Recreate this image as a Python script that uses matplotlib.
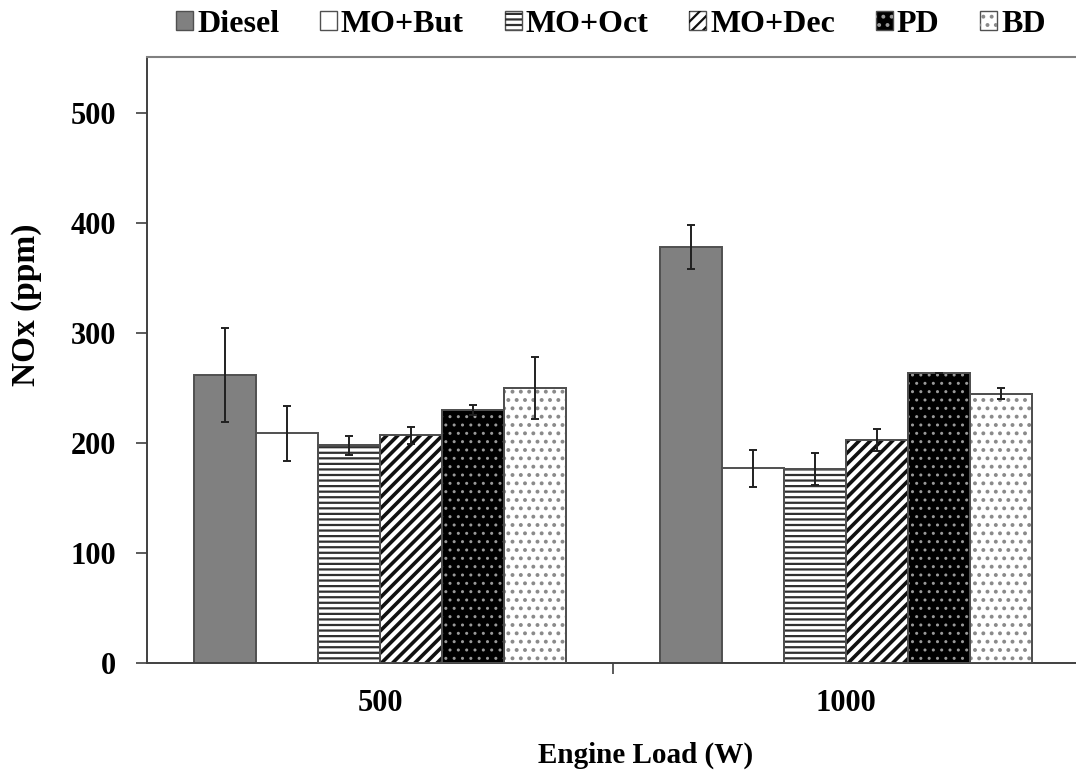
import numpy as np
import matplotlib
matplotlib.use("Agg")
import matplotlib.pyplot as plt
from matplotlib.patches import Patch

# Data
loads = ["500", "1000"]
fuels = ["Diesel", "MO+But", "MO+Oct", "MO+Dec", "PD", "BD"]
diesel = [262, 378]
mo_but = [209, 177]
mo_oct = [198, 176]
mo_dec = [207, 203]
pd_fuel = [230, 264]
bd = [250, 245]
diesel_err = [43, 20]
mo_but_err = [25, 17]
mo_oct_err = [8.5, 14.5]
mo_dec_err = [8, 10]
pd_err = [4.5, 0]
bd_err = [28, 5]

values = [diesel, mo_but, mo_oct, mo_dec, pd_fuel, bd]
errors = [diesel_err, mo_but_err, mo_oct_err, mo_dec_err, pd_err, bd_err]

# Fill / hatch styles for each fuel
styles = [
    dict(face="#808080", hatch=None, hcolor=None, hlw=1.0),
    dict(face="white", hatch=None, hcolor=None, hlw=1.0),
    dict(face="white", hatch="---", hcolor="#303030", hlw=1.6),
    dict(face="white", hatch="///", hcolor="#101010", hlw=2.6),
    dict(face="black", hatch="..", hcolor="#9a9a9a", hlw=1.0),
    dict(face="white", hatch="..", hcolor="#8a8a8a", hlw=1.6),
]
edge = "#505050"

plt.rcParams["font.family"] = ["Liberation Serif", "DejaVu Serif"]
plt.rcParams["font.weight"] = "bold"

fig = plt.figure(figsize=(10.76, 7.71), dpi=100)
ax = fig.add_axes([147 / 1076, 1 - 663 / 771, (1079 - 147) / 1076, (663 - 57) / 771])

x = np.arange(len(loads))
n = len(fuels)
group_w = 0.8
w = group_w / n

handles = []
for i, (vals, errs, st) in enumerate(zip(values, errors, styles)):
    pos = x - group_w / 2 + w * (i + 0.5)
    plt.rcParams["hatch.linewidth"] = st["hlw"]
    ax.bar(pos, vals, width=w, color=st["face"], edgecolor=edge, linewidth=1.4, zorder=2)
    if st["hatch"]:
        ax.bar(pos, vals, width=w, color="none", edgecolor=st["hcolor"],
               hatch=st["hatch"], linewidth=0, zorder=3)
        ax.bar(pos, vals, width=w, color="none", edgecolor=edge, linewidth=1.4, zorder=4)
    ax.errorbar(pos, vals, yerr=errs, fmt="none", ecolor="#202020",
                elinewidth=1.4, capsize=3, capthick=1.4, zorder=5)
    base = Patch(facecolor=st["face"], edgecolor=edge, linewidth=1.0)
    if st["hatch"]:
        over = Patch(facecolor="none", edgecolor=st["hcolor"], hatch=st["hatch"], linewidth=0)
        handles.append((base, over))
    else:
        handles.append(base)

ax.set_xlim(-0.5, 1.5)
ax.set_ylim(0, 551)
ax.set_yticks([0, 100, 200, 300, 400, 500])
ax.set_xticks(x)
ax.set_xticklabels(loads)
ax.set_xticks([0.5], minor=True)
ax.tick_params(axis="x", which="major", length=0, pad=19, labelsize=22)
ax.tick_params(axis="x", which="minor", length=8, width=1.2, color="#404040", direction="out")
ax.tick_params(axis="y", length=8, width=1.2, color="#404040", direction="out", pad=14, labelsize=22)

for lab in ax.get_xticklabels() + ax.get_yticklabels():
    lab.set_fontweight("bold")

ax.spines["right"].set_visible(False)
ax.spines["top"].set_color("#808080")
ax.spines["top"].set_linewidth(1.5)
ax.spines["left"].set_color("#404040")
ax.spines["left"].set_linewidth(1.4)
ax.spines["bottom"].set_color("#404040")
ax.spines["bottom"].set_linewidth(1.4)

ax.set_ylabel("NOx (ppm)", fontsize=24, fontweight="bold", va="center")
ax.yaxis.set_label_coords(-0.1288, 0.591)
ax.set_xlabel("Engine Load (W)", fontsize=21, fontweight="bold", va="center")
ax.xaxis.set_label_coords(0.535, -0.152)

fig.legend(handles, fuels, loc="center", bbox_to_anchor=(611 / 1076, 1 - 24 / 771),
           ncol=6, frameon=False, handlelength=0.53, handleheight=0.55,
           handletextpad=0.12, columnspacing=1.28, borderaxespad=0,
           prop={"weight": "bold", "size": 23})

fig.savefig("out.png", dpi=100)
